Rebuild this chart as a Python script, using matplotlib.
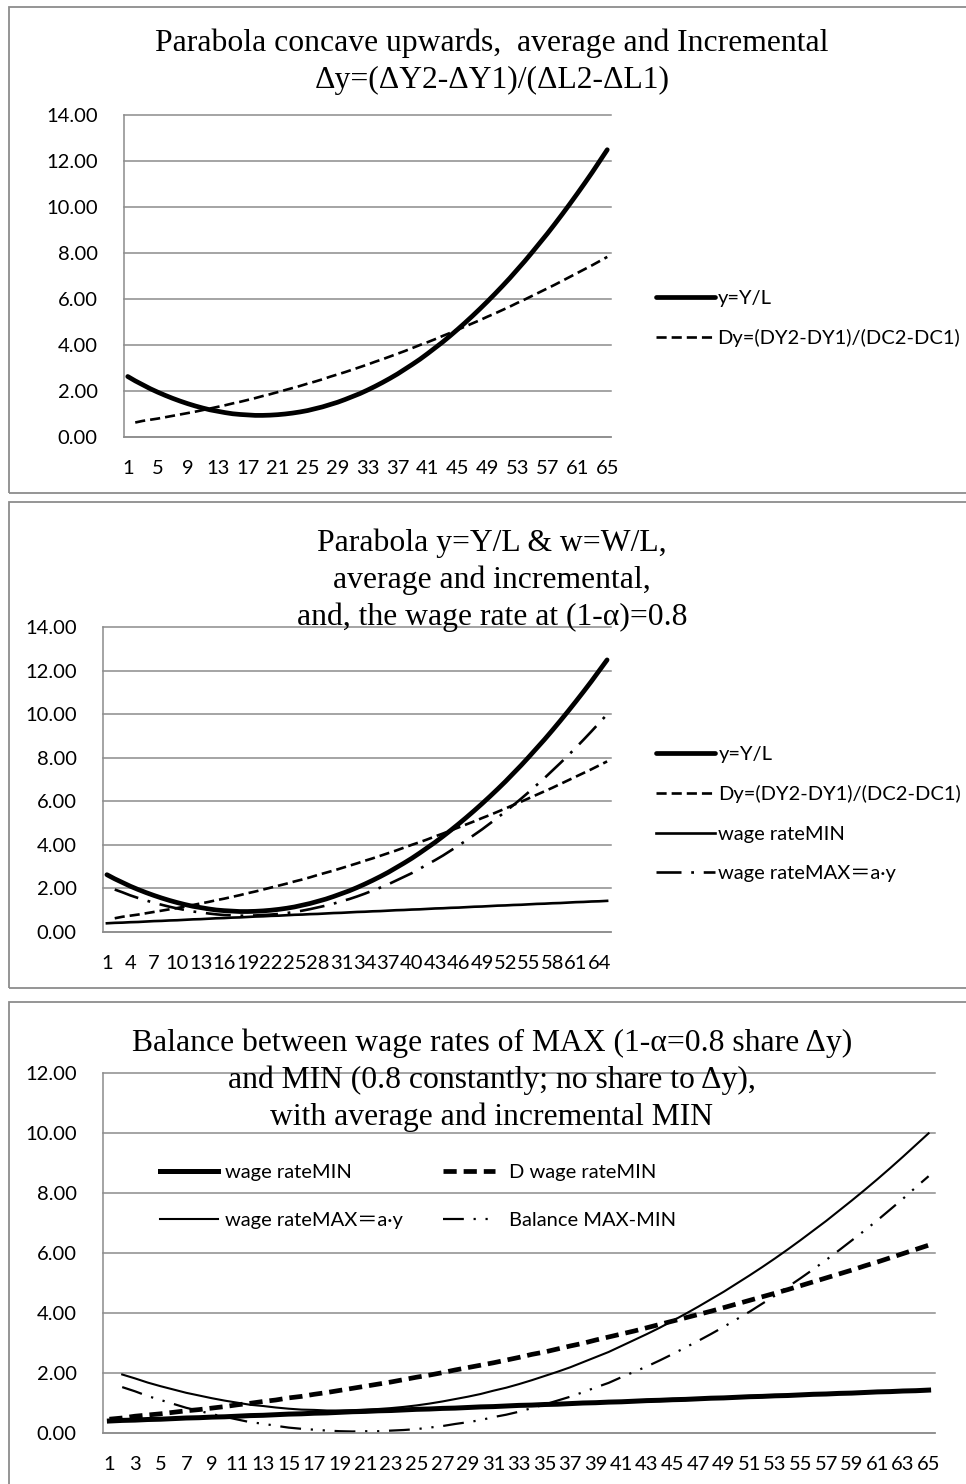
import numpy as np
import matplotlib
matplotlib.use('Agg')
import matplotlib.pyplot as plt
from matplotlib.patches import Rectangle

plt.rcParams['font.family'] = ['Lato', 'Noto Sans CJK JP', 'DejaVu Sans']
plt.rcParams['lines.scale_dashes'] = False

W, H = 966, 1484
nan = np.nan

# category axis 1..65
x = list(range(1, 66))

# y = Y/L (average)
y_avg = [2.63, 2.44, 2.27, 2.10, 1.95, 1.81, 1.68, 1.56, 1.45, 1.35,
         1.26, 1.18, 1.12, 1.06, 1.01, 0.98, 0.96, 0.94, 0.94, 0.95,
         0.97, 1.00, 1.04, 1.09, 1.15, 1.23, 1.31, 1.41, 1.51, 1.63,
         1.76, 1.89, 2.04, 2.20, 2.37, 2.55, 2.74, 2.95, 3.16, 3.38,
         3.62, 3.87, 4.12, 4.39, 4.67, 4.96, 5.26, 5.57, 5.89, 6.22,
         6.56, 6.91, 7.28, 7.65, 8.04, 8.44, 8.84, 9.26, 9.69, 10.13,
         10.58, 11.04, 11.51, 12.00, 12.49]

# Dy = (DY2-DY1)/(DC2-DC1) (incremental, no value at first point)
dy_inc = [nan, 0.63, 0.70, 0.75, 0.80, 0.86, 0.92, 0.98, 1.04, 1.10,
          1.17, 1.24, 1.31, 1.38, 1.46, 1.53, 1.61, 1.69, 1.78, 1.86,
          1.95, 2.04, 2.13, 2.22, 2.32, 2.41, 2.51, 2.62, 2.72, 2.82,
          2.93, 3.04, 3.15, 3.27, 3.38, 3.50, 3.62, 3.74, 3.87, 4.00,
          4.12, 4.25, 4.39, 4.52, 4.66, 4.80, 4.94, 5.08, 5.23, 5.37,
          5.52, 5.67, 5.83, 5.98, 6.14, 6.30, 6.46, 6.62, 6.79, 6.96,
          7.13, 7.30, 7.47, 7.65, 7.83]

wage_min = [0.40, 0.42, 0.43, 0.45, 0.46, 0.48, 0.50, 0.51, 0.53, 0.54,
            0.56, 0.58, 0.59, 0.61, 0.63, 0.64, 0.66, 0.67, 0.69, 0.71,
            0.72, 0.74, 0.75, 0.77, 0.79, 0.80, 0.82, 0.83, 0.85, 0.87,
            0.88, 0.90, 0.92, 0.93, 0.95, 0.96, 0.98, 1.00, 1.01, 1.03,
            1.04, 1.06, 1.08, 1.09, 1.11, 1.12, 1.14, 1.16, 1.17, 1.19,
            1.21, 1.22, 1.24, 1.25, 1.27, 1.29, 1.30, 1.32, 1.33, 1.35,
            1.37, 1.38, 1.40, 1.41, 1.43]

wage_max = [nan, 1.95, 1.82, 1.68, 1.56, 1.45, 1.34, 1.25, 1.16, 1.08,
            1.01, 0.94, 0.90, 0.85, 0.81, 0.78, 0.77, 0.75, 0.75, 0.76,
            0.78, 0.80, 0.83, 0.87, 0.92, 0.98, 1.05, 1.13, 1.21, 1.30,
            1.41, 1.51, 1.63, 1.76, 1.90, 2.04, 2.19, 2.36, 2.53, 2.70,
            2.90, 3.10, 3.30, 3.51, 3.74, 3.97, 4.21, 4.46, 4.71, 4.98,
            5.25, 5.53, 5.82, 6.12, 6.43, 6.75, 7.07, 7.41, 7.75, 8.10,
            8.46, 8.83, 9.21, 9.60, 9.99]

d_wage_min = [0.46, 0.50, 0.56, 0.60, 0.64, 0.69, 0.74, 0.78, 0.83, 0.88,
              0.94, 0.99, 1.05, 1.10, 1.17, 1.22, 1.29, 1.35, 1.42, 1.49,
              1.56, 1.63, 1.70, 1.78, 1.86, 1.93, 2.01, 2.10, 2.18, 2.26,
              2.34, 2.43, 2.52, 2.62, 2.70, 2.80, 2.90, 2.99, 3.10, 3.20,
              3.30, 3.40, 3.51, 3.62, 3.73, 3.84, 3.95, 4.06, 4.18, 4.30,
              4.42, 4.54, 4.66, 4.78, 4.91, 5.04, 5.17, 5.30, 5.43, 5.57,
              5.70, 5.84, 5.98, 6.12, 6.26]

balance = [nan, 1.53, 1.39, 1.23, 1.10, 0.97, 0.84, 0.74, 0.63, 0.54,
           0.45, 0.36, 0.31, 0.24, 0.18, 0.14, 0.11, 0.08, 0.06, 0.05,
           0.06, 0.06, 0.08, 0.10, 0.13, 0.18, 0.23, 0.30, 0.36, 0.43,
           0.53, 0.61, 0.71, 0.83, 0.95, 1.08, 1.21, 1.36, 1.52, 1.67,
           1.86, 2.04, 2.22, 2.42, 2.63, 2.85, 3.07, 3.30, 3.54, 3.79,
           4.04, 4.31, 4.58, 4.87, 5.16, 5.46, 5.77, 6.09, 6.42, 6.75,
           7.09, 7.45, 7.81, 8.19, 8.56]

titles = [
    ["Parabola concave upwards,  average and Incremental",
     "\u0394y=(\u0394Y2-\u0394Y1)/(\u0394L2-\u0394L1)"],
    ["Parabola y=Y/L & w=W/L,",
     "average and incremental,",
     "and, the wage rate at (1-\u03b1)=0.8"],
    ["Balance between wage rates of MAX (1-\u03b1=0.8 share \u0394y)",
     "and MIN (0.8 constantly; no share to \u0394y),",
     "with average and incremental MIN"],
]

GRID = '#8c8c8c'
FRAME = '#8c8c8c'
TICK_FS = 14.5
TITLE_FS = 22.8
SERIF = ['Liberation Serif', 'DejaVu Serif']


def fx(px):
    return px / W


def fy(py):
    return 1 - py / H


def make_axes(fig, left, top, right, bottom):
    return fig.add_axes([fx(left), fy(bottom), (right - left) / W, (bottom - top) / H])


def style_axes(ax, ymax, xstep):
    ax.set_xlim(0.5, 65.5)
    ax.set_ylim(0, ymax)
    yt = np.arange(0, ymax + 0.01, 2)
    ax.set_yticks(yt)
    ax.set_yticklabels(['%.2f' % v for v in yt])
    ax.set_xticks(x[::xstep])
    ax.set_xticklabels([str(v) for v in x[::xstep]])
    ax.yaxis.grid(True, color=GRID, linewidth=1.1)
    for gl in ax.get_ygridlines():
        gl.set_clip_on(False)
    ax.set_axisbelow(True)
    for side in ['top', 'right']:
        ax.spines[side].set_visible(False)
    for side in ['left', 'bottom']:
        ax.spines[side].set_color(GRID)
        ax.spines[side].set_linewidth(1.1)
    ax.tick_params(axis='both', length=0, labelsize=TICK_FS)
    ax.tick_params(axis='y', pad=19)
    ax.tick_params(axis='x', pad=16.5)


def draw_frame(fig, left, top, right, bottom):
    fig.patches.append(Rectangle((fx(left), fy(bottom)), (right - left) / W, (bottom - top) / H,
                                 transform=fig.transFigure, fill=False,
                                 edgecolor=FRAME, linewidth=1.3))


def draw_title(fig, lines, first_y, pitch=37, cx=492):
    for i, line in enumerate(lines):
        fig.text(fx(cx), fy(first_y + i * pitch), line, ha='center', va='center',
                 fontsize=TITLE_FS, family=SERIF)


fig = plt.figure(figsize=(W / 100, H / 100), dpi=100)

# panel frames
draw_frame(fig, 9, 7, 975, 493)
draw_frame(fig, 9, 502, 975, 988)
draw_frame(fig, 9, 1002, 975, 1495)

# --- panel 1
ax1 = make_axes(fig, 124, 115, 611, 437)
style_axes(ax1, 14, 4)
l1, = ax1.plot(x, y_avg, color='black', linewidth=3.4, solid_capstyle='round', label='y=Y/L')
l2, = ax1.plot(x, dy_inc, color='black', linewidth=1.9, linestyle=(0, (7.3, 3.6)),
               label='Dy=(DY2-DY1)/(DC2-DC1)')
draw_title(fig, titles[0], 43)
fig.legend(handles=[l1, l2], loc='upper left', bbox_to_anchor=(fx(656), fy(290)),
           frameon=False, fontsize=TICK_FS, handlelength=2.95, handletextpad=0.1,
           labelspacing=1.1, borderpad=0, borderaxespad=0)

# --- panel 2
ax2 = make_axes(fig, 103, 627, 611, 932)
style_axes(ax2, 14, 3)
m1, = ax2.plot(x, y_avg, color='black', linewidth=3.4, solid_capstyle='round', label='y=Y/L')
m2, = ax2.plot(x, dy_inc, color='black', linewidth=1.9, linestyle=(0, (7.3, 3.6)),
               label='Dy=(DY2-DY1)/(DC2-DC1)')
m3, = ax2.plot(x, wage_min, color='black', linewidth=1.9, label='wage rateMIN')
m4, = ax2.plot(x, wage_max, color='black', linewidth=1.9, linestyle=(0, (18, 7, 2, 7)),
               label='wage rateMAX\uff1da\u00b7y')
draw_title(fig, titles[1], 543)
fig.legend(handles=[m1, m2, m3, m4], loc='upper left', bbox_to_anchor=(fx(656), fy(746)),
           frameon=False, fontsize=TICK_FS, handlelength=2.95, handletextpad=0.15,
           labelspacing=1.1, borderpad=0, borderaxespad=0)

# --- panel 3
ax3 = make_axes(fig, 103, 1073, 935, 1433)
style_axes(ax3, 12, 2)
n1, = ax3.plot(x, wage_min, color='black', linewidth=3.6, label='wage rateMIN')
n2, = ax3.plot(x, d_wage_min, color='black', linewidth=3.4, linestyle=(0, (9.5, 5)),
               label='D wage rateMIN')
n3, = ax3.plot(x, wage_max, color='black', linewidth=1.5, label='wage rateMAX\uff1da\u00b7y')
n4, = ax3.plot(x, balance, color='black', linewidth=1.6, linestyle=(0, (15, 7, 1.6, 7, 1.6, 7)),
               label='Balance MAX-MIN')
draw_title(fig, titles[2], 1043)
fig.legend(handles=[n1, n3], loc='upper left', bbox_to_anchor=(fx(160), fy(1164)),
           frameon=False, fontsize=TICK_FS, handlelength=2.9, handletextpad=0.35,
           labelspacing=1.55, borderpad=0, borderaxespad=0)
fig.legend(handles=[n2, n4], loc='upper left', bbox_to_anchor=(fx(443), fy(1164)),
           frameon=False, fontsize=TICK_FS, handlelength=2.6, handletextpad=0.7,
           labelspacing=1.55, borderpad=0, borderaxespad=0)

fig.savefig('out.png', dpi=100)
